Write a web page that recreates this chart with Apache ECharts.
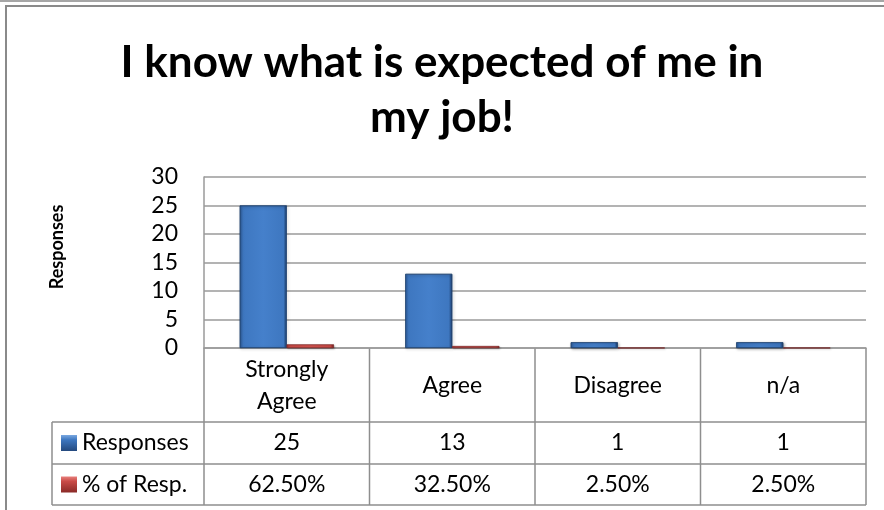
<!DOCTYPE html>
<html>
<head>
<meta charset="utf-8">
<script src="https://cdn.jsdelivr.net/npm/echarts@6/dist/echarts.min.js"></script>
<style>
  html, body { margin: 0; padding: 0; background: #fff; }
  #chart { width: 884px; height: 510px; }
</style>
</head>
<body>
<div id="chart"></div>
<script>
// Survey results: "I know what is expected of me in my job!"
const categories = ['Strongly\nAgree', 'Agree', 'Disagree', 'n/a'];
const responses = [25, 13, 1, 1];
const percentOfResp = [62.5, 32.5, 2.5, 2.5];   // percent of respondents
const yTicks = [0, 5, 10, 15, 20, 25, 30];
const seriesNames = ['Responses', '% of Resp.'];

const FONT = 'Lato';
const GRID_COLOR = '#9a9a9a';

// Bevelled bar fills (dark edges, lighter face)
function bevel(edgeL, face, faceHi, edgeR) {
  return new echarts.graphic.LinearGradient(0, 0, 1, 0, [
    { offset: 0, color: edgeL },
    { offset: 0.07, color: face },
    { offset: 0.5, color: faceHi },
    { offset: 0.93, color: face },
    { offset: 1, color: edgeR }
  ]);
}
const blueFill = bevel('#2f5e9e', '#3e77c0', '#4580cb', '#1b3b68');
const redFill = bevel('#a33a37', '#c94b47', '#d4534f', '#7a2220');
const blueKey = new echarts.graphic.LinearGradient(0, 0, 0, 1, [
  { offset: 0, color: '#7aa8e0' }, { offset: 0.3, color: '#3e77c0' }, { offset: 1, color: '#24497e' }
]);
const redKey = new echarts.graphic.LinearGradient(0, 0, 0, 1, [
  { offset: 0, color: '#e8807c' }, { offset: 0.3, color: '#c94b47' }, { offset: 1, color: '#8a2a27' }
]);

const chart = echarts.init(document.getElementById('chart'), null, { renderer: 'canvas' });

const option = {
  animation: false,
  backgroundColor: '#ffffff',
  textStyle: { fontFamily: FONT },
  title: {
    text: 'I know what is expected of me in\nmy job!',
    left: 'center',
    top: 30,
    textStyle: {
      fontFamily: FONT, fontSize: 44, fontWeight: 'bold', color: '#000', lineHeight: 55
    }
  },
  grid: { left: 204, right: 18, top: 177, bottom: 162, containLabel: false },
  xAxis: {
    type: 'category',
    data: categories,
    axisLine: { show: true, lineStyle: { color: GRID_COLOR, width: 1.5 } },
    axisTick: { show: false },
    axisLabel: {
      show: true, interval: 0, margin: 38, verticalAlign: 'middle',
      fontFamily: FONT, fontSize: 23, color: '#000', lineHeight: 32
    },
    splitLine: { show: false }
  },
  yAxis: {
    type: 'value',
    min: yTicks[0],
    max: yTicks[yTicks.length - 1],
    interval: yTicks[1] - yTicks[0],
    axisLine: { show: true, lineStyle: { color: GRID_COLOR, width: 1.5 } },
    axisTick: { show: false },
    axisLabel: { margin: 26, fontFamily: FONT, fontSize: 23, color: '#000' },
    splitLine: { show: true, lineStyle: { color: GRID_COLOR, width: 1.5 } }
  },
  series: [
    {
      name: seriesNames[0],
      type: 'bar',
      data: responses,
      barWidth: 47,
      barGap: '0%',
      itemStyle: {
        color: blueFill, borderColor: '#1f426f', borderWidth: 0.6,
        shadowBlur: 3, shadowColor: 'rgba(0,0,0,0.35)', shadowOffsetX: 1, shadowOffsetY: 1
      }
    },
    {
      name: seriesNames[1],
      type: 'bar',
      // percentages plotted as fractions on the same axis
      data: percentOfResp.map(p => p / 100),
      barWidth: 47,
      itemStyle: {
        color: redFill, borderColor: '#7a2220', borderWidth: 0.4,
        shadowBlur: 2, shadowColor: 'rgba(0,0,0,0.3)', shadowOffsetX: 1, shadowOffsetY: 1
      }
    }
  ]
};
chart.setOption(option);

// Data table under the plot, positioned from the axes
function buildTable() {
  const n = categories.length;
  const c0 = chart.convertToPixel({ xAxisIndex: 0 }, 0);
  const c1 = chart.convertToPixel({ xAxisIndex: 0 }, 1);
  const band = c1 - c0;
  const left = c0 - band / 2;
  const right = left + band * n;
  const top = chart.convertToPixel({ yAxisIndex: 0 }, 0);
  const row1 = top + 74, row2 = row1 + 42, bottom = row2 + 41;
  const keyLeft = 52;
  const line = { stroke: '#8e8e8e', lineWidth: 1.5 };
  const els = [];
  // outer frame of the chart
  els.push({ type: 'line', shape: { x1: 0, y1: 1, x2: 884, y2: 1 }, style: { stroke: '#a6a6a6', lineWidth: 2 } });
  els.push({ type: 'rect', shape: { x: 6, y: 6, width: 900, height: 600 }, style: { fill: null, stroke: '#8a8a8a', lineWidth: 2 } });
  // horizontal rules
  els.push({ type: 'line', shape: { x1: keyLeft, y1: row1, x2: right, y2: row1 }, style: line });
  els.push({ type: 'line', shape: { x1: keyLeft, y1: row2, x2: right, y2: row2 }, style: line });
  els.push({ type: 'line', shape: { x1: keyLeft, y1: bottom, x2: right, y2: bottom }, style: line });
  // vertical rules
  els.push({ type: 'line', shape: { x1: keyLeft, y1: row1, x2: keyLeft, y2: bottom }, style: line });
  for (let i = 0; i <= n; i++) {
    const x = left + band * i;
    els.push({ type: 'line', shape: { x1: x, y1: top, x2: x, y2: bottom }, style: line });
  }
  // legend keys and row headers
  const rows = [
    { y: (row1 + row2) / 2, key: blueKey, name: seriesNames[0], vals: responses.map(v => String(v)) },
    { y: (row2 + bottom) / 2, key: redKey, name: seriesNames[1], vals: percentOfResp.map(v => v.toFixed(2) + '%') }
  ];
  rows.forEach(r => {
    els.push({ type: 'rect', shape: { x: 61, y: r.y - 8, width: 16, height: 16 }, style: { fill: r.key } });
    els.push({ type: 'text', x: 82, y: r.y, style: { text: r.name, font: '23px ' + FONT, fill: '#000', verticalAlign: 'middle', align: 'left' } });
    r.vals.forEach((v, i) => {
      els.push({ type: 'text', x: left + band * (i + 0.5), y: r.y, style: { text: v, font: '23px ' + FONT, fill: '#000', verticalAlign: 'middle', align: 'center' } });
    });
  });
  // vertical axis title
  els.push({
    type: 'text', x: 57, y: 247, rotation: Math.PI / 2,
    style: { text: 'Responses', font: 'bold 18px ' + FONT, fill: '#000', align: 'center', verticalAlign: 'middle' }
  });
  chart.setOption({ graphic: { elements: els } });
}
buildTable();
</script>
</body>
</html>
